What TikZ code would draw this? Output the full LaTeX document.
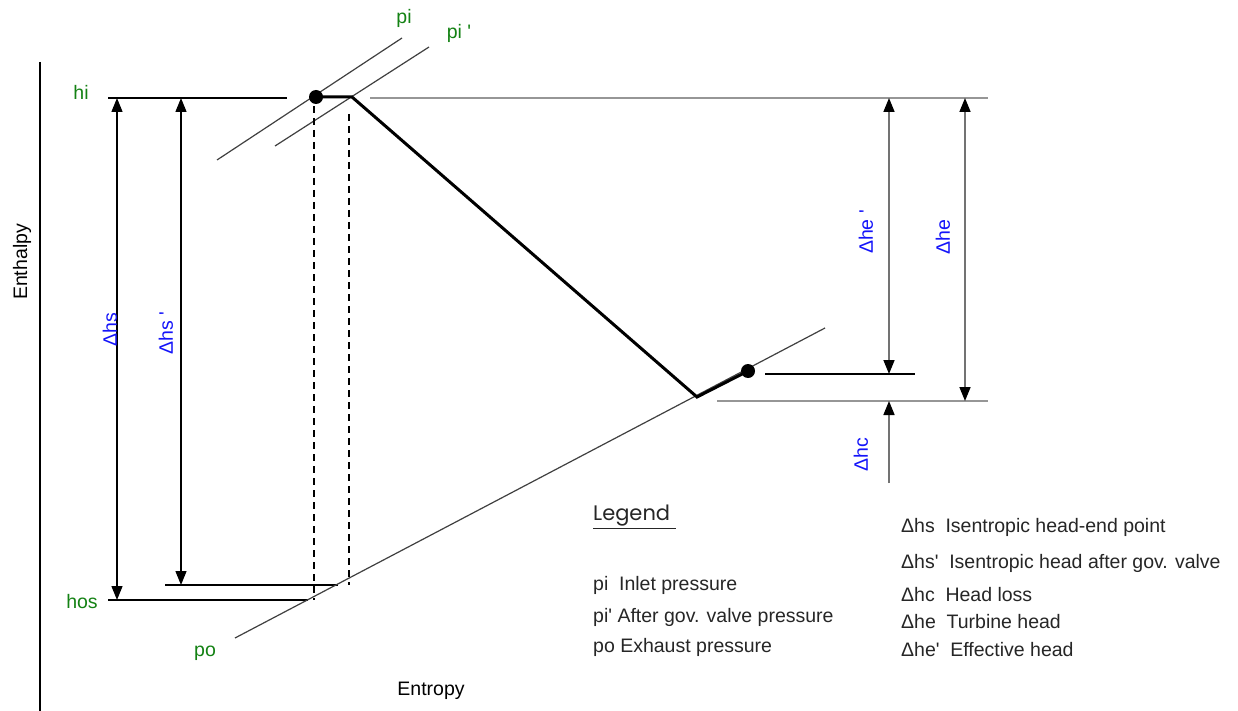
\documentclass[tikz,border=0pt]{standalone}
\usepackage{fontspec}
\setmainfont{Liberation Sans}
\newfontfamily\legfont{Poppins}
\usetikzlibrary{arrows.meta}
\definecolor{lblgreen}{RGB}{20,130,20}
\definecolor{lblblue}{RGB}{20,20,250}
\definecolor{guide}{RGB}{150,150,150}
\begin{document}
\begin{tikzpicture}[x=1pt,y=-1pt,
  every node/.style={font=\fontsize{19.5}{23}\selectfont, inner sep=0pt},
  grn/.style={text=lblgreen},
  blu/.style={text=lblblue, rotate=90},
  leg/.style={anchor=west, text=black!85},
  axisline/.style={line width=1.4pt, black},
  thinline/.style={line width=1.4pt, black},
  guideline/.style={line width=1.6pt, guide},
  isobar/.style={line width=1.2pt, black!75},
  process/.style={line width=3pt, black, line join=miter},
  dashline/.style={line width=1.3pt, black, dash pattern=on 7pt off 5pt},
  dot/.style={circle, fill=black, minimum size=14pt, inner sep=0pt},
  dimblack/.style={line width=1.4pt, black, {Triangle[length=14pt,width=11pt]}-{Triangle[length=14pt,width=11pt]}},
  dimgray/.style={line width=1.6pt, black!55, {Triangle[length=14pt,width=11pt,color=black]}-{Triangle[length=14pt,width=11pt,color=black]}},
  upgray/.style={line width=1.6pt, black!55, -{Triangle[length=14pt,width=11pt,color=black]}}
]
\useasboundingbox[fill=white] (0,0) rectangle (1238,711);

% axis
\coordinate (axTop) at (40,62);
\coordinate (axBot) at (40,711);
\draw[axisline] (axTop) -- (axBot);

% horizontal reference lines
\coordinate (hiL) at (108,98);
\coordinate (hiR) at (287,98);
\coordinate (topL) at (370,98);
\coordinate (topR) at (988,98);
\coordinate (hosL) at (108,600);
\coordinate (hosR) at (308,600);
\coordinate (hspL) at (165,585);
\coordinate (hspR) at (338,585);
\coordinate (effL) at (765,374);
\coordinate (effR) at (915,374);
\coordinate (botL) at (717,401);
\coordinate (botR) at (988,401);
\draw[thinline] (hiL) -- (hiR);
\draw[thinline] (hosL) -- (hosR);
\draw[thinline] (hspL) -- (hspR);
\draw[thinline] (effL) -- (effR);
\draw[guideline] (topL) -- (topR);
\draw[guideline] (botL) -- (botR);

% isobars
\coordinate (piA) at (217,160);
\coordinate (piB) at (402,38);
\coordinate (pipA) at (275,146);
\coordinate (pipB) at (429,47);
\coordinate (poA) at (235,638);
\coordinate (poB) at (825,328);
\draw[isobar] (piA) -- (piB);
\draw[isobar] (pipA) -- (pipB);
\draw[isobar] (poA) -- (poB);

% dashed verticals
\coordinate (d1T) at (314,106);
\coordinate (d1B) at (314,600);
\coordinate (d2T) at (349,114);
\coordinate (d2B) at (349,585);
\draw[dashline] (d1T) -- (d1B);
\draw[dashline] (d2T) -- (d2B);

% process line
\node[dot] (s1) at (316,97) {};
\coordinate (c1) at (352,97);
\coordinate (c2) at (697,397);
\node[dot] (s2) at (748,371) {};
\draw[process] (s1.center) -- (c1) -- (c2) -- (s2.center);

% dimension arrows
\coordinate (hsT) at (117,98);
\coordinate (hsB) at (117,600);
\coordinate (hspT) at (181,98);
\coordinate (hspB) at (181,585);
\draw[dimblack] (hsT) -- (hsB);
\draw[dimblack] (hspT) -- (hspB);
\coordinate (hepT) at (889,98);
\coordinate (hepB) at (889,374);
\coordinate (heT) at (965,98);
\coordinate (heB) at (965,401);
\coordinate (hcB) at (889,483);
\coordinate (hcT) at (889,401);
\draw[dimgray] (hepT) -- (hepB);
\draw[dimgray] (heT) -- (heB);
\draw[upgray] (hcB) -- (hcT);

% labels
\node[grn] (lhi) at (81,92) {hi};
\node[grn] (lhos) at (82,602) {hos};
\node[grn] (lpi) at (404,18) {pi};
\node[grn] (lpip) at (459,33) {pi \textquotesingle};
\node[grn] (lpo) at (205,653) {po};
\node (lent) at (431,691) {Entropy};
\node[rotate=90] (lenth) at (22,262) {Enthalpy};

\node[blu] (lhs) at (110,330) {Δhs};
\node[blu] (lhsp) at (166,333) {Δhs \textquotesingle};
\node[blu] (lhep) at (866,232) {Δhe \textquotesingle};
\node[blu] (lhe) at (943,237) {Δhe};
\node[blu] (lhc) at (861,455) {Δhc};

% legend
\node[leg, font=\legfont\fontsize{21}{25}\selectfont] (legT) at (593,517) {\underline{Legend\ }};
\node[leg] (lg1) at (593,585) {pi\hspace{0.55em}Inlet pressure};
\node[leg] (lg2) at (593,617) {pi\textquotesingle\ After gov. valve pressure};
\node[leg] (lg3) at (593,647) {po Exhaust pressure};
\node[leg] (lg4) at (901,527) {Δhs\hspace{0.55em}Isentropic head-end point};
\node[leg] (lg5) at (901,563) {Δhs\textquotesingle\hspace{0.55em}Isentropic head after gov. valve};
\node[leg] (lg6) at (901,595) {Δhc\hspace{0.55em}Head loss};
\node[leg] (lg7) at (901,622) {Δhe\hspace{0.55em}Turbine head};
\node[leg] (lg8) at (901,650) {Δhe\textquotesingle\hspace{0.55em}Effective head};
\end{tikzpicture}
\end{document}
